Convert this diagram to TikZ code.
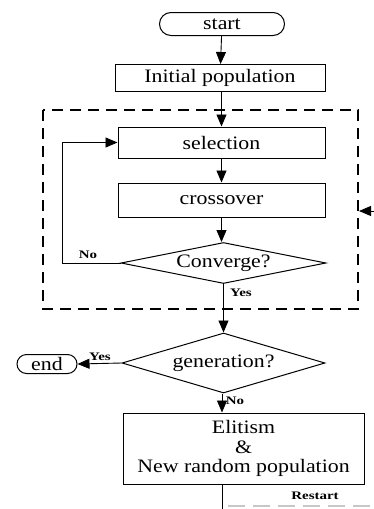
\documentclass[tikz,border=0pt]{standalone}
\usepackage{fontspec}
\setmainfont{Liberation Serif}[FakeStretch=1.15]
\newfontfamily\labfont{Liberation Serif}[FakeStretch=1.3]
\usetikzlibrary{shapes.geometric,shapes.misc,arrows.meta}
\begin{document}
\begin{tikzpicture}[x=1pt,y=-1pt,
  box/.style={draw, line width=1pt, inner sep=0pt, font=\fontsize{19}{17}\selectfont},
  proc/.style={box, rectangle},
  term/.style={box, rounded rectangle},
  dec/.style={box, diamond, aspect=5},
  arr/.style={-{Triangle[length=12pt,width=10pt]}, line width=0.9pt},
  ln/.style={line width=0.9pt},
  lab/.style={font=\labfont\bfseries\fontsize{11.5}{12}\selectfont, inner sep=0pt},
  dbox/.style={line width=1.6pt, dash pattern=on 11pt off 7pt},
  gdash/.style={line width=1.5pt, draw=black!22, dash pattern=on 17pt off 8pt}
]
\useasboundingbox (0,0) rectangle (374,509);

\node[term, minimum width=125pt, minimum height=23pt] (start) at (222,24) {start};
\node[proc, minimum width=210pt, minimum height=27pt] (init) at (220,78) {Initial population};
\draw[dbox] (43,110) rectangle (358,309);
\node[proc, minimum width=207pt, minimum height=31pt] (sel) at (221.5,142.5) {selection};
\node[proc, minimum width=207pt, minimum height=34pt] (cross) at (221.5,200) {crossover};
\node[dec, minimum width=205pt, minimum height=41pt] (conv) at (223.5,263) {Converge?};
\node[dec, aspect=3.4, minimum width=203pt, minimum height=60pt] (gen) at (223.5,363) {generation?};
\node[term, minimum width=60pt, minimum height=19pt] (end) at (47,364) {end};
\node[proc, align=center, minimum width=241pt, minimum height=71pt,
  font=\fontsize{19}{19.5}\selectfont] (elit) at (243.5,448.5)
  {Elitism\\\&\\New random population};

\coordinate (loopx) at (62,0);
\coordinate (bot) at (222,509);
\coordinate (rin) at (374,211);
\coordinate (rtip) at (359,211);
\coordinate (gl1) at (228,506);
\coordinate (gl2) at (374,506);

\draw[arr] (start) -- (init);
\draw[arr] (init.south -| sel.north) -- (sel.north);
\draw[arr] (sel) -- (cross);
\draw[arr] (cross.south) -- (cross.south |- conv.north);
\draw[arr] (conv.west) -- (conv.west -| loopx) -- (sel.west -| loopx) -- (sel.west);
\draw[arr] (conv.south) -- (conv.south |- gen.north);
\draw[arr] (gen.west) -- (end.east);
\draw[arr] (gen.south -| bot) -- (elit.north -| bot);
\draw[ln] (elit.south -| bot) -- (bot);
\draw[arr] (rin) -- (rtip);
\draw[gdash] (gl1) -- (gl2);

\node[lab] (lno1) at (88,255) {No};
\node[lab] (lyes1) at (241,293) {Yes};
\node[lab] (lyes2) at (100,357) {Yes};
\node[lab] (lno2) at (235,401) {No};
\node[lab] (lrs) at (315,496) {Restart};
\end{tikzpicture}
\end{document}
